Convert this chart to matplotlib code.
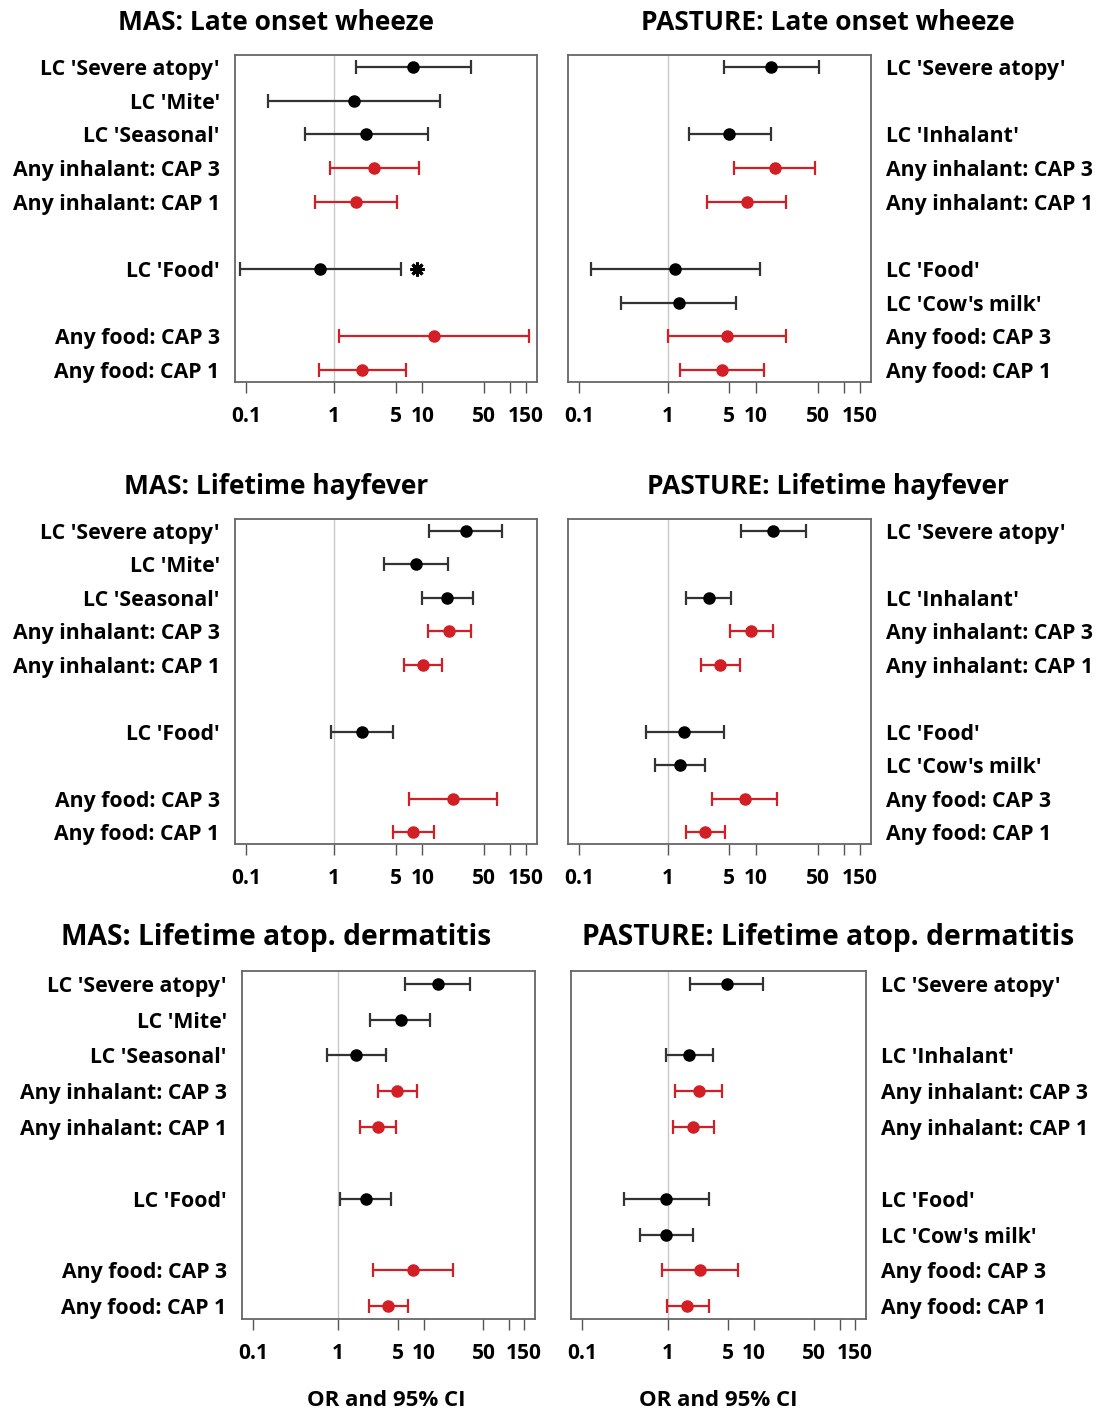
import matplotlib
matplotlib.use('Agg')
import matplotlib.pyplot as plt

plt.rcParams['font.family'] = ['Open Sans', 'DejaVu Sans']
plt.rcParams['font.weight'] = 'bold'

# row labels
mas_labels = ["LC 'Severe atopy'", "LC 'Mite'", "LC 'Seasonal'",
              "Any inhalant: CAP 3", "Any inhalant: CAP 1",
              "LC 'Food'", "Any food: CAP 3", "Any food: CAP 1"]
pasture_labels = ["LC 'Severe atopy'", "LC 'Inhalant'",
                  "Any inhalant: CAP 3", "Any inhalant: CAP 1",
                  "LC 'Food'", "LC 'Cow's milk'",
                  "Any food: CAP 3", "Any food: CAP 1"]
# red = CAP based definitions
mas_is_cap = [False, False, False, True, True, False, True, True]
pas_is_cap = [False, False, True, True, False, False, True, True]

# MAS: late onset wheeze
mas_wheeze_or = [7.9, 1.67, 2.28, 2.85, 1.77, 0.69, 13.7, 2.06]
mas_wheeze_lo = [1.77, 0.177, 0.46, 0.89, 0.60, 0.086, 1.14, 0.67]
mas_wheeze_hi = [35.8, 15.8, 11.5, 9.1, 5.2, 5.8, 165, 6.6]
mas_wheeze_star = 8.6  # flagged estimate next to LC 'Food'

# PASTURE: late onset wheeze
pas_wheeze_or = [14.9, 5.0, 16.6, 7.9, 1.23, 1.35, 4.7, 4.1]
pas_wheeze_lo = [4.4, 1.73, 5.7, 2.8, 0.136, 0.30, 1.01, 1.38]
pas_wheeze_hi = [51.7, 14.7, 46.9, 21.7, 11.0, 6.0, 22.1, 12.5]

# MAS: lifetime hayfever
mas_hay_or = [31.2, 8.5, 19.2, 20.3, 10.2, 2.06, 22.4, 7.9]
mas_hay_lo = [12.0, 3.65, 9.9, 11.5, 6.2, 0.93, 7.1, 4.6]
mas_hay_hi = [79.6, 19.5, 37.5, 35.8, 16.6, 4.7, 71.2, 13.7]

# PASTURE: lifetime hayfever
pas_hay_or = [15.7, 2.92, 8.8, 3.96, 1.55, 1.37, 7.5, 2.67]
pas_hay_lo = [6.8, 1.61, 5.05, 2.37, 0.57, 0.73, 3.19, 1.6]
pas_hay_hi = [37.2, 5.2, 15.7, 6.55, 4.33, 2.67, 17.5, 4.45]

# MAS: lifetime atopic dermatitis
mas_ad_or = [14.8, 5.4, 1.63, 4.9, 2.93, 2.09, 7.43, 3.83]
mas_ad_lo = [6.1, 2.35, 0.74, 2.9, 1.81, 1.04, 2.54, 2.28]
mas_ad_hi = [35.2, 11.9, 3.65, 8.4, 4.69, 4.18, 22.2, 6.5]

# PASTURE: lifetime atopic dermatitis
pas_ad_or = [4.82, 1.78, 2.28, 1.98, 0.95, 0.95, 2.37, 1.67]
pas_ad_lo = [1.8, 0.95, 1.22, 1.16, 0.306, 0.47, 0.86, 0.97]
pas_ad_hi = [12.8, 3.33, 4.3, 3.4, 3.0, 1.96, 6.59, 2.97]

xticks = [0.1, 1, 5, 10, 50, 100, 150]
xticklabels = ['0.1', '1', '5', '10', '50', '', '150']

# slot of each estimate (gaps separate inhalant and food blocks)
mas_rows = [1, 2, 3, 4, 5, 7, 9, 10]
pas_rows = [1, 3, 4, 5, 7, 8, 9, 10]

RED = '#d21f26'
BLACK = '#000000'

W, H = 1097, 1414
fig = plt.figure(figsize=(W / 100, H / 100), dpi=100, facecolor='white')


def px_axes(x0, y0, x1, y1):
    return fig.add_axes([x0 / W, 1 - y1 / H, (x1 - x0) / W, (y1 - y0) / H])


def forest(ax, rows, labels, est, lo, hi, cap_flags, side):
    for r, e, l, h, cap in zip(rows, est, lo, hi, cap_flags):
        c = RED if cap else BLACK
        ax.errorbar([e], [r], xerr=[[e - l], [h - e]], fmt='o', color=c,
                    ecolor=c if cap else '#333333', elinewidth=1.6,
                    capsize=5, capthick=1.6, markersize=8, zorder=3)
    ax.axvline(1, color='#c8c8c8', lw=1, zorder=1)
    ax.set_xscale('log')
    ax.set_xlim(10 ** -1.127, 10 ** 2.303)
    ax.set_ylim(10.36, 0.64)
    ax.set_xticks(xticks)
    ax.set_xticklabels(xticklabels)
    ax.minorticks_off()
    ax.tick_params(axis='x', length=8, width=1, color='#555555', pad=9,
                   labelsize=15)
    ax.set_yticks(rows)
    ax.set_yticklabels(labels)
    ax.tick_params(axis='y', length=0, pad=11, labelsize=15.3)
    if side == 'right':
        ax.yaxis.tick_right()
    for sp in ax.spines.values():
        sp.set_color('#666666')
        sp.set_linewidth(1.3)


panels = [
    ((235, 55, 537, 382), mas_rows, mas_labels, mas_wheeze_or, mas_wheeze_lo, mas_wheeze_hi,
     mas_is_cap, 'left', 'MAS: Late onset wheeze', 22, 19),
    ((568, 55, 871, 382), pas_rows, pasture_labels, pas_wheeze_or, pas_wheeze_lo, pas_wheeze_hi,
     pas_is_cap, 'right', 'PASTURE: Late onset wheeze', 22, 19),
    ((235, 519, 537, 844), mas_rows, mas_labels, mas_hay_or, mas_hay_lo, mas_hay_hi,
     mas_is_cap, 'left', 'MAS: Lifetime hayfever', 487, 19),
    ((568, 519, 871, 844), pas_rows, pasture_labels, pas_hay_or, pas_hay_lo, pas_hay_hi,
     pas_is_cap, 'right', 'PASTURE: Lifetime hayfever', 487, 19),
    ((242, 971, 535, 1319), mas_rows, mas_labels, mas_ad_or, mas_ad_lo, mas_ad_hi,
     mas_is_cap, 'left', 'MAS: Lifetime atop. dermatitis', 937, 20.3),
    ((571, 971, 866, 1319), pas_rows, pasture_labels, pas_ad_or, pas_ad_lo, pas_ad_hi,
     pas_is_cap, 'right', 'PASTURE: Lifetime atop. dermatitis', 937, 20.3),
]

axes = []
for rect, rows, labels, est, lo, hi, caps, side, title, ty, tsize in panels:
    ax = px_axes(*rect)
    forest(ax, rows, labels, est, lo, hi, caps, side)
    cx = 276 if side == 'left' else 828
    fig.text(cx / W, 1 - ty / H, title, ha='center', va='center',
             fontsize=tsize, fontweight='bold')
    axes.append(ax)

# flagged estimate in MAS late onset wheeze, LC 'Food'
axes[0].plot([mas_wheeze_star], [mas_rows[5]], marker=(8, 2, 0), color='black',
             markersize=10, markeredgewidth=2.2, zorder=4)

for cx in (386, 718):
    fig.text(cx / W, 1 - 1400 / H, 'OR and 95% CI', ha='center', va='center',
             fontsize=16, fontweight='bold')

fig.savefig('out.png', dpi=100, facecolor='white')
